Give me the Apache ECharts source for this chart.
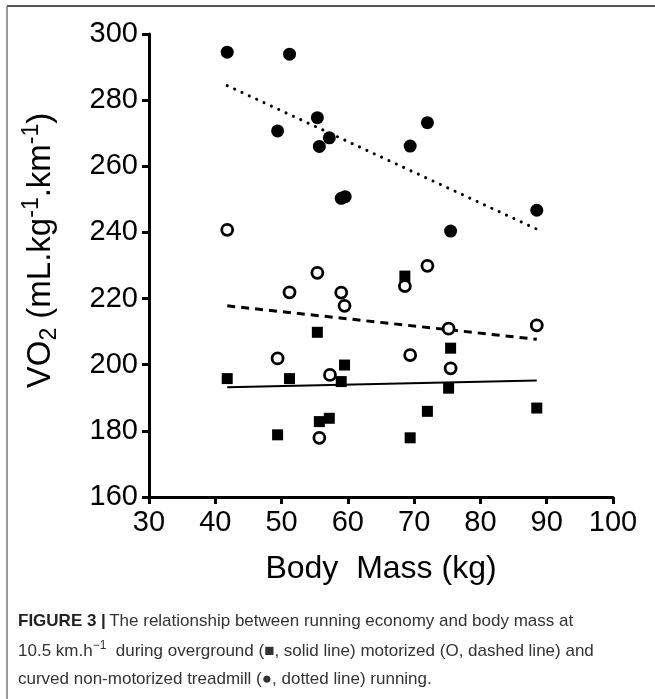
<!DOCTYPE html>
<html>
<head>
<meta charset="utf-8">
<script src="https://cdn.jsdelivr.net/npm/echarts@6/dist/echarts.min.js"></script>
<style>
html,body{margin:0;padding:0;background:#fff;}
#c{width:655px;height:699px;}
</style>
</head>
<body>
<div id="c"></div>
<script>
// Body mass (kg) and VO2 values
const overgroundMass = [41.8, 51.2, 59.0, 59.5, 75.2, 49.4, 55.7, 57.2, 69.4, 72.0, 88.5, 55.4, 68.6, 75.5];
const overgroundVO2  = [195.8, 195.8, 194.9, 199.9, 192.9, 178.8, 182.8, 183.8, 177.9, 185.9, 186.9, 209.8, 226.8, 205.0];

const motorizedMass = [41.8, 55.4, 72.0, 51.2, 59.0, 59.5, 68.6, 75.2, 88.5, 49.4, 69.4, 75.5, 57.3, 55.7];
const motorizedVO2  = [240.8, 227.8, 229.9, 221.9, 221.8, 217.8, 223.8, 210.9, 211.9, 201.9, 202.9, 198.9, 196.9, 177.9];

const curvedMass = [41.8, 51.2, 49.4, 55.4, 55.7, 57.2, 69.4, 72.0, 59.0, 59.6, 88.5, 75.5];
const curvedVO2  = [294.5, 293.9, 270.7, 274.7, 266.0, 268.6, 266.1, 273.2, 250.3, 250.8, 246.7, 240.4];

// Regression line end points
const fitMass = [41.8, 88.5];
const overgroundFit = [193.2, 195.2];
const motorizedFit  = [217.8, 207.7];
const curvedFit     = [284.4, 241.0];

const xTicks = [30, 40, 50, 60, 70, 80, 90, 100];
const yTicks = [160, 180, 200, 220, 240, 260, 280, 300];

const zip = (a, b) => a.map((v, i) => [v, b[i]]);

const chart = echarts.init(document.getElementById('c'), null, {renderer: 'canvas'});
const FONT = '"Liberation Sans", Arial, sans-serif';

chart.setOption({
  animation: false,
  backgroundColor: '#fff',
  grid: {left: 149, right: 42, top: 34, bottom: 202, containLabel: false},
  xAxis: {
    type: 'value',
    min: xTicks[0], max: xTicks[xTicks.length - 1], interval: 10,
    name: 'Body  Mass (kg)',
    nameLocation: 'middle',
    nameGap: 56,
    nameTextStyle: {fontFamily: FONT, fontSize: 32, color: '#000'},
    axisLine: {lineStyle: {color: '#000', width: 3}},
    axisTick: {show: true, length: 7, lineStyle: {color: '#000', width: 3}},
    axisLabel: {fontFamily: FONT, fontSize: 29, color: '#000', margin: 11},
    splitLine: {show: false}
  },
  yAxis: {
    type: 'value',
    min: yTicks[0], max: yTicks[yTicks.length - 1], interval: 20,
    name: '{n|VO}{sub|2}{n| (mL.kg}{sup|-1}{n|.km}{sup|-1}{n|)}',
    nameLocation: 'middle',
    nameGap: 88,
    nameTextStyle: {
      fontFamily: FONT, fontSize: 33, color: '#000',
      padding: [0, 0, 0, 30],
      rich: {
        n: {fontFamily: FONT, fontSize: 33, color: '#000'},
        sub: {fontFamily: FONT, fontSize: 23, color: '#000', verticalAlign: 'bottom', padding: [18, 0, 0, 0]},
        sup: {fontFamily: FONT, fontSize: 23, color: '#000', verticalAlign: 'top', padding: [0, 0, 18, 0]}
      }
    },
    axisLine: {show: true, lineStyle: {color: '#000', width: 3}},
    axisTick: {show: true, length: 7, lineStyle: {color: '#000', width: 3}},
    axisLabel: {fontFamily: FONT, fontSize: 29, color: '#000', margin: 11},
    splitLine: {show: false}
  },
  series: [
    {
      type: 'line', data: zip(fitMass, overgroundFit), symbol: 'none',
      lineStyle: {color: '#000', width: 2, type: 'solid'}, z: 2
    },
    {
      type: 'line', data: zip(fitMass, motorizedFit), symbol: 'none',
      lineStyle: {color: '#000', width: 3, type: [8, 6]}, z: 2
    },
    {
      type: 'line', data: zip(fitMass, curvedFit), symbol: 'none',
      lineStyle: {color: '#000', width: 3, type: [0.1, 8], cap: 'round'}, z: 2
    },
    {
      type: 'scatter', data: zip(overgroundMass, overgroundVO2),
      symbol: 'rect', symbolSize: 11,
      itemStyle: {color: '#000', opacity: 1}, z: 3
    },
    {
      type: 'scatter', data: zip(motorizedMass, motorizedVO2),
      symbol: 'circle', symbolSize: 11,
      itemStyle: {color: '#fff', borderColor: '#000', borderWidth: 2.8, opacity: 1}, z: 4
    },
    {
      type: 'scatter', data: zip(curvedMass, curvedVO2),
      symbol: 'circle', symbolSize: 13,
      itemStyle: {color: '#000', opacity: 1}, z: 5
    }
  ],
  graphic: [
    {type: 'line', shape: {x1: 7, y1: 6, x2: 655, y2: 6}, style: {stroke: '#555', lineWidth: 2}},
    {type: 'line', shape: {x1: 7, y1: 6, x2: 7, y2: 699}, style: {stroke: '#777', lineWidth: 1.5}},
    {
      type: 'text', left: 18, top: 613,
      style: {
        text: '{b|FIGURE 3 |} {t|The relationship between running economy and body mass at}',
        rich: {
          b: {fontFamily: FONT, fontSize: 17, fontWeight: 'bold', fill: '#222'},
          t: {fontFamily: FONT, fontSize: 17, fill: '#333'}
        }
      }
    },
    {
      type: 'text', left: 18, top: 640,
      style: {
        text: '{t|10.5 km.h}{s|\u22121}{t|  during overground (\u25A0, solid line) motorized (O, dashed line) and}',
        rich: {
          t: {fontFamily: FONT, fontSize: 17, fill: '#333'},
          s: {fontFamily: FONT, fontSize: 12, fill: '#333', verticalAlign: 'top', padding: [0, 0, 10, 0]}
        }
      }
    },
    {
      type: 'text', left: 18, top: 671,
      style: {
        text: 'curved non-motorized treadmill (\u25CF, dotted line) running.',
        font: '17px "Liberation Sans", Arial, sans-serif', fill: '#333'
      }
    }
  ]
});
</script>
</body>
</html>
